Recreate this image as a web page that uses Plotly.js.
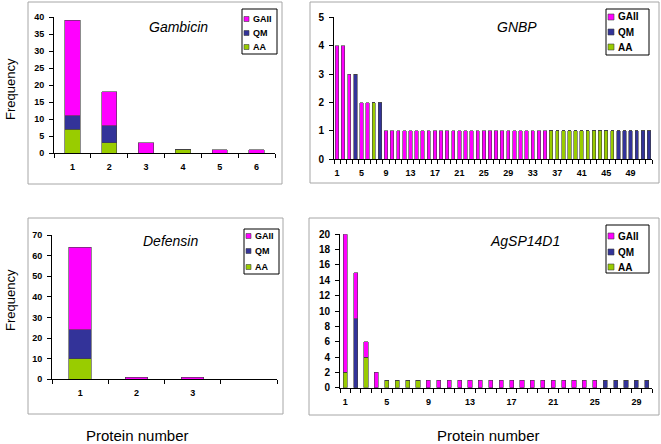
<!DOCTYPE html>
<html>
<head>
<meta charset="utf-8">
<script src="https://cdn.plot.ly/plotly-3.0.1.min.js"></script>
<style>html,body{margin:0;padding:0;background:#fff;}#chart{width:661px;height:444px;}</style>
</head>
<body>
<div id="chart"></div>
<script>
// ---------------- data ----------------
const seriesNames = ['GAII', 'QM', 'AA'];

const gambicinCats = [1, 2, 3, 4, 5, 6];
const gambicinTickLabels = ['1', '2', '3', '4', '5', '6'];
const gambicinGAII = [28, 10, 3, 0, 1, 1];
const gambicinQM   = [4, 5, 0, 0, 0, 0];
const gambicinAA   = [7, 3, 0, 1, 0, 0];

const gnbpCats = [1,2,3,4,5,6,7,8,9,10,11,12,13,14,15,16,17,18,19,20,21,22,23,24,25,26,
                  27,28,29,30,31,32,33,34,35,36,37,38,39,40,41,42,43,44,45,46,47,48,49,50,51,52];
const gnbpTickVals = [1, 5, 9, 13, 17, 21, 25, 29, 33, 37, 41, 45, 49];
const gnbpTickLabels = ['1','5','9','13','17','21','25','29','33','37','41','45','49'];
const gnbpGAII = [4,4,3,0,2,2,0,0, 1,1,1,1,1,1,1,1,1,1, 1,1,1,1,1,1,1,1,1,1, 1,1,1,1,1,1,1,
                  0,0,0,0,0,0,0,0,0,0,0, 0,0,0,0,0,0];
const gnbpQM   = [0,0,0,3,0,0,0,2, 0,0,0,0,0,0,0,0,0,0, 0,0,0,0,0,0,0,0,0,0, 0,0,0,0,0,0,0,
                  0,0,0,0,0,0,0,0,0,0,0, 1,1,1,1,1,1];
const gnbpAA   = [0,0,0,0,0,0,2,0, 0,0,0,0,0,0,0,0,0,0, 0,0,0,0,0,0,0,0,0,0, 0,0,0,0,0,0,0,
                  1,1,1,1,1,1,1,1,1,1,1, 0,0,0,0,0,0];

const defensinCats = [1, 2, 3, 4];
const defensinTickLabels = ['1', '2', '3', ''];
const defensinGAII = [40, 1, 1, 0];
const defensinQM   = [14, 0, 0, 0];
const defensinAA   = [10, 0, 0, 0];

const agspCats = [1,2,3,4,5,6,7,8,9,10,11,12,13,14,15,16,17,18,19,20,21,22,23,24,25,26,27,28,29,30];
const agspTickVals = [1, 5, 9, 13, 17, 21, 25, 29];
const agspTickLabels = ['1','5','9','13','17','21','25','29'];
const agspGAII = [18,6,2,2,0,0,0,0, 1,1,1,1,1,1,1,1,1,1,1,1,1,1,1,1,1, 0,0,0,0,0];
const agspQM   = [0,9,0,0,0,0,0,0, 0,0,0,0,0,0,0,0,0,0,0,0,0,0,0,0,0, 1,1,1,1,1];
const agspAA   = [2,0,4,0,1,1,1,1, 0,0,0,0,0,0,0,0,0,0,0,0,0,0,0,0,0, 0,0,0,0,0];

const panelTitles = ['Gambicin', 'GNBP', 'Defensin', 'AgSP14D1'];

// ---------------- styles ----------------
const W = 661, H = 444;
const px = x => x / W;
const py = y => 1 - y / H;
const FONT = 'Arial, "Liberation Sans", sans-serif';
const colors = {GAII: '#FF00FF', QM: '#333399', AA: '#99CC00'};
const outline = {color: '#404040', width: 0.6};

const traces = [];
function addPanel(n, cats, gaii, qm, aa, barWidth) {
  const suffix = n === 1 ? '' : String(n);
  const stack = [['AA', aa], ['QM', qm], ['GAII', gaii]];
  stack.forEach(([name, vals]) => {
    traces.push({
      type: 'bar', name: name, x: cats, y: vals,
      xaxis: 'x' + suffix, yaxis: 'y' + suffix,
      width: barWidth,
      marker: {color: colors[name], line: outline},
      showlegend: false, hoverinfo: 'skip'
    });
  });
}
addPanel(1, gambicinCats, gambicinGAII, gambicinQM, gambicinAA, 0.42);
addPanel(2, gnbpCats, gnbpGAII, gnbpQM, gnbpAA, 0.55);
addPanel(3, defensinCats, defensinGAII, defensinQM, defensinAA, 0.4);
addPanel(4, agspCats, agspGAII, agspQM, agspAA, 0.4);

function xAxis(domain, anchor, n, tickvals, ticktext, size) {
  return {
    domain: domain, anchor: anchor, range: [0.5, n + 0.5],
    tickmode: 'array', tickvals: tickvals, ticktext: ticktext,
    ticks: '', showline: true, linecolor: '#000', linewidth: 1,
    showgrid: false, zeroline: false, fixedrange: true,
    tickfont: {family: FONT, size: size, color: '#000', weight: 'bold'},
    ticklabelstandoff: 5,
    minor: {tickmode: 'linear', tick0: 0.5, dtick: 1, ticks: 'outside', ticklen: 4,
            tickcolor: '#000', tickwidth: 1, showgrid: false}
  };
}
function yAxis(domain, anchor, max, dtick, size) {
  return {
    domain: domain, anchor: anchor, range: [0, max],
    tickmode: 'linear', tick0: 0, dtick: dtick,
    ticks: 'outside', ticklen: 4, tickcolor: '#000', tickwidth: 1,
    showline: true, linecolor: '#000', linewidth: 1,
    showgrid: false, zeroline: false, fixedrange: true,
    ticklabelstandoff: 3,
    tickfont: {family: FONT, size: size, color: '#000', weight: 'bold'}
  };
}

const shapes = [];
const annotations = [];
function box(x0, y0, x1, y1, color, width) {
  shapes.push({type: 'rect', xref: 'paper', yref: 'paper',
    x0: px(x0), x1: px(x1), y0: py(y1), y1: py(y0),
    line: {color: color, width: width}, fillcolor: 'rgba(0,0,0,0)', layer: 'below'});
}
// panel frames
box(28, 2, 282, 184, '#a6a6a6', 1);
box(310, 2, 659, 183, '#a6a6a6', 1);
box(28, 218, 283, 414, '#a6a6a6', 1);
box(309, 218, 659, 415, '#a6a6a6', 1);

function legend(x0, y0, x1, y1, itemY, sw, fontSize) {
  shapes.push({type: 'rect', xref: 'paper', yref: 'paper',
    x0: px(x0), x1: px(x1), y0: py(y1), y1: py(y0),
    line: {color: '#000', width: 1}, fillcolor: '#fff', layer: 'above'});
  seriesNames.forEach((name, i) => {
    const cy = itemY[i];
    shapes.push({type: 'rect', xref: 'paper', yref: 'paper',
      x0: px(x0 + 2), x1: px(x0 + 2 + sw), y0: py(cy + sw / 2), y1: py(cy - sw / 2),
      line: {color: '#404040', width: 0.6}, fillcolor: colors[name], layer: 'above'});
    annotations.push({xref: 'paper', yref: 'paper', x: px(x0 + 4 + sw), y: py(cy),
      xanchor: 'left', yanchor: 'middle', showarrow: false, text: name,
      font: {family: FONT, size: fontSize, color: '#000', weight: 'bold'}});
  });
}
legend(242, 9, 277, 54, [19, 33, 47], 5, 9);
legend(606, 9, 649, 55, [17, 32, 47], 6, 10);
legend(244, 229, 279, 274, [236, 251, 267], 5, 9);
legend(606, 225, 649, 273, [236, 252, 267], 6, 10);

function label(text, x, y, size, opts) {
  annotations.push(Object.assign({xref: 'paper', yref: 'paper', x: px(x), y: py(y),
    xanchor: 'center', yanchor: 'middle', showarrow: false, text: text,
    font: {family: FONT, size: size, color: '#000'}}, opts || {}));
}
label('<i>' + panelTitles[0] + '</i>', 178, 27, 14);
label('<i>' + panelTitles[1] + '</i>', 517, 27, 14);
label('<i>' + panelTitles[2] + '</i>', 170, 241, 14);
label('<i>' + panelTitles[3] + '</i>', 525, 241, 14);
label('Frequency', 10, 89, 13, {textangle: -90});
label('Frequency', 10, 300, 13, {textangle: -90});
label('Protein number', 137, 435, 15);
label('Protein number', 488, 435, 15);

const layout = {
  width: W, height: H,
  margin: {l: 0, r: 0, t: 0, b: 0, pad: 0},
  paper_bgcolor: '#fff', plot_bgcolor: 'rgba(0,0,0,0)',
  barmode: 'stack', showlegend: false,
  font: {family: FONT, color: '#000'},
  xaxis:  xAxis([px(54), px(275)], 'y', 6, gambicinCats, gambicinTickLabels, 9),
  yaxis:  yAxis([py(153), py(17)], 'x', 40, 5, 9),
  xaxis2: xAxis([px(334), px(652)], 'y2', 52, gnbpTickVals, gnbpTickLabels, 9),
  yaxis2: yAxis([py(159.3), py(17.3)], 'x2', 5, 1, 10),
  xaxis3: xAxis([px(52), px(277)], 'y3', 4, defensinCats, defensinTickLabels, 9),
  yaxis3: yAxis([py(379.3), py(235)], 'x3', 70, 10, 9),
  xaxis4: xAxis([px(340), px(652)], 'y4', 30, agspTickVals, agspTickLabels, 9),
  yaxis4: yAxis([py(387.7), py(234.3)], 'x4', 20, 2, 10),
  shapes: shapes,
  annotations: annotations
};

Plotly.newPlot('chart', traces, layout, {staticPlot: true, displayModeBar: false});
</script>
</body>
</html>
